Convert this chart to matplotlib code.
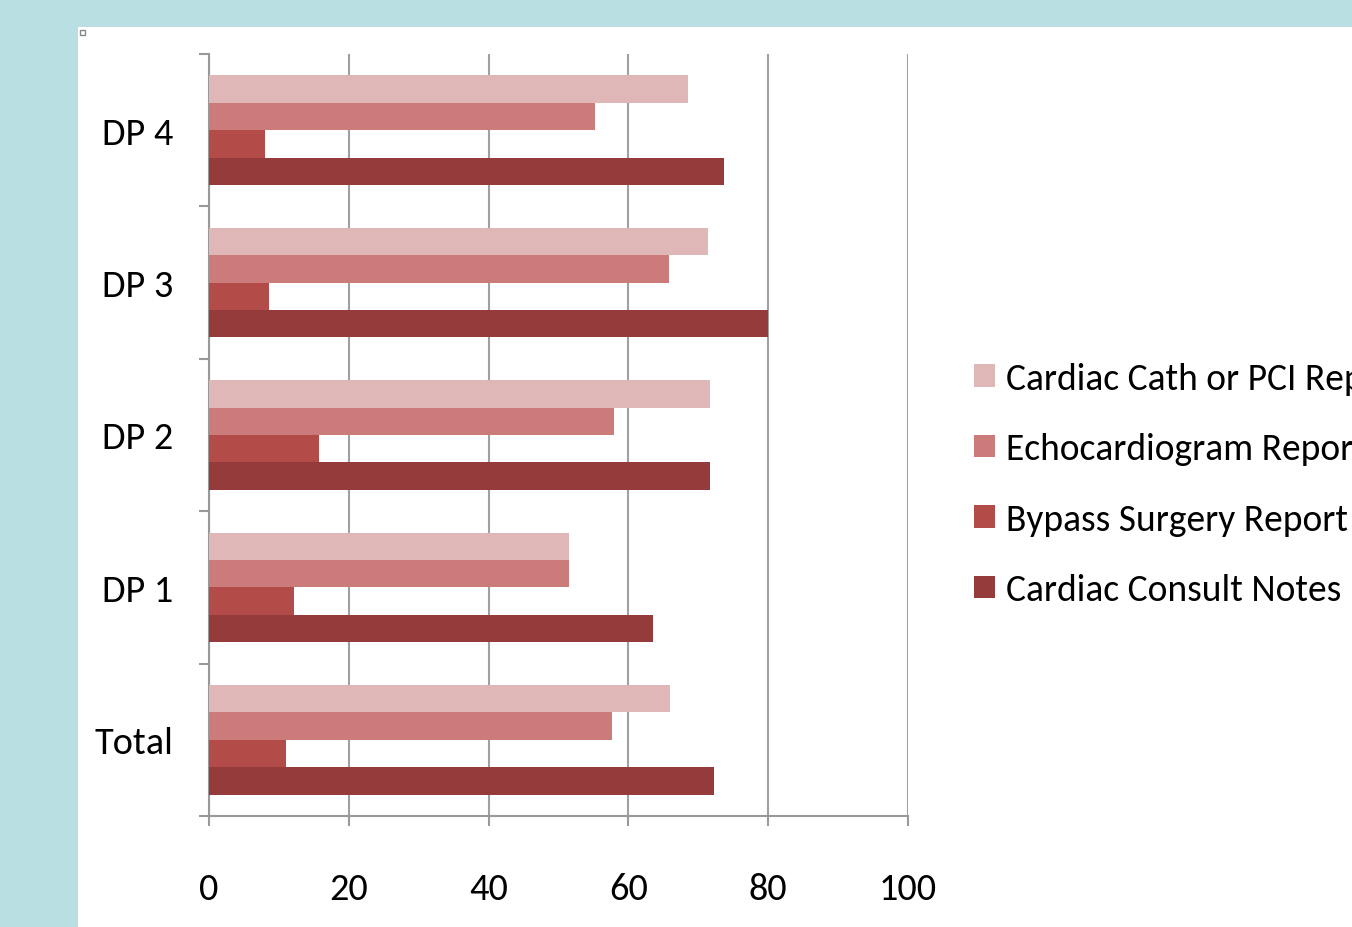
import matplotlib
matplotlib.use("Agg")
import matplotlib.pyplot as plt
import matplotlib.patches as mpatches
from matplotlib import font_manager
import numpy as np

available = {f.name for f in font_manager.fontManager.ttflist}
font = "DejaVu Sans"
for cand in ["Carlito", "Liberation Sans Narrow", "Open Sans Condensed", "Roboto Condensed",
             "Lato", "Liberation Sans"]:
    if cand in available:
        font = cand
        break
plt.rcParams['font.family'] = [font, 'DejaVu Sans']

categories = ["Total", "DP 1", "DP 2", "DP 3", "DP 4"]
series_names = ["Cardiac Cath or PCI Report", "Echocardiogram Report",
                "Bypass Surgery Report", "Cardiac Consult Notes"]
cath = [66.0, 51.5, 71.7, 71.4, 68.5]
echo = [57.7, 51.5, 57.9, 65.8, 55.2]
bypass = [11.0, 12.2, 15.7, 8.6, 8.0]
consult = [72.2, 63.5, 71.7, 80.0, 73.7]
x_ticks = [0, 20, 40, 60, 80, 100]

colors = ["#DFB7B7", "#CB7B7A", "#B34B49", "#953B3B"]

W, H = 1352, 928
fig = plt.figure(figsize=(W / 100, H / 100), dpi=100)
fig.patch.set_facecolor("#BADFE3")
# white chart area
bg = fig.add_axes([78 / W, 0, 1 - 78 / W, 1 - 28 / H], zorder=0)
bg.set_facecolor("white")
bg.set_xticks([]); bg.set_yticks([])
for s in bg.spines.values():
    s.set_visible(False)
bg.set_xlim(0, 1); bg.set_ylim(0, 1)
bg.add_patch(mpatches.Rectangle((1.5 / (W - 78), 1 - 8 / (H - 28)), 5 / (W - 78), 5 / (H - 28),
                                facecolor="white", edgecolor="#888888", linewidth=1))

ax = fig.add_axes([209 / W, 1 - 817 / H, (908 - 209) / W, (817 - 55) / H], zorder=2)
ax.set_facecolor("none")

y = np.arange(len(categories))
h = 0.18
all_vals = [cath, echo, bypass, consult]
offsets = [1.5 * h, 0.5 * h, -0.5 * h, -1.5 * h]
handles = []
for vals, off, c, name in zip(all_vals, offsets, colors, series_names):
    b = ax.barh(y + off, vals, height=h, color=c, edgecolor="none", label=name, zorder=3)
    handles.append(b)

fs = 27.5
ax.set_xlim(0, 100)
ax.set_ylim(-0.5, len(categories) - 0.5)
ax.set_xticks(x_ticks)
ax.set_xticklabels([str(t) for t in x_ticks], fontsize=fs)
ax.set_yticks(y)
ax.set_yticklabels(categories, fontsize=fs)
ax.set_yticks(np.arange(-0.5, len(categories), 1.0), minor=True)
ax.tick_params(axis='y', which='major', length=0, pad=26)
ax.tick_params(axis='y', which='minor', length=7.5, width=1.5, color="#999999", direction='out')
ax.tick_params(axis='x', which='major', length=7.5, width=1.5, color="#999999", direction='out', pad=33)

ax.grid(axis='x', color="#A0A0A0", linewidth=1.5, zorder=1)
for s in ["top", "right"]:
    ax.spines[s].set_visible(False)
for s in ["left", "bottom"]:
    ax.spines[s].set_color("#999999")
    ax.spines[s].set_linewidth(1.5)

leg = fig.legend(handles=handles, labels=series_names, loc="center left",
                 bbox_to_anchor=(974 / W, 1 - 485 / H), frameon=False,
                 fontsize=27, handlelength=0.56, handleheight=0.56,
                 labelspacing=1.0, handletextpad=0.3, borderpad=0, borderaxespad=0)
leg.set_zorder(5)

fig.savefig("out.png", dpi=100, facecolor=fig.get_facecolor())
